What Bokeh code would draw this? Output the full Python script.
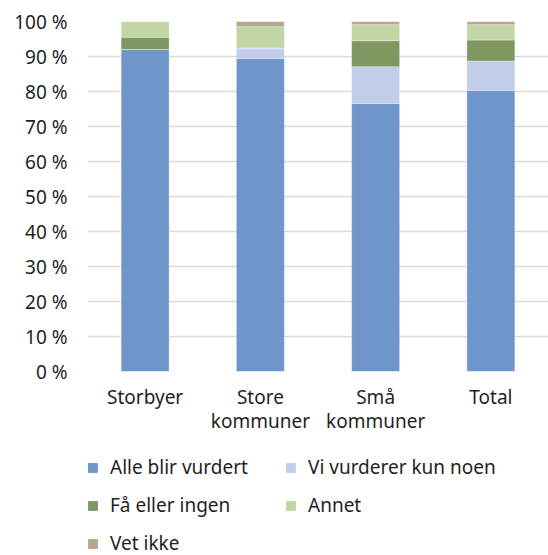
from bokeh.plotting import figure
from bokeh.layouts import column
from bokeh.models import FactorRange, Range1d, Legend, PrintfTickFormatter, ColumnDataSource
from bokeh.embed import file_html
from bokeh.resources import INLINE

categories = ["Storbyer", "Store\nkommuner", "Små\nkommuner", "Total"]
series = ["Alle blir vurdert", "Vi vurderer kun noen", "Få eller ingen", "Annet", "Vet ikke"]
alle = [92.0, 89.4, 76.6, 80.3]
noen = [0.0, 3.0, 10.5, 8.4]
faa = [3.5, 0.0, 7.4, 6.0]
annet = [4.5, 6.1, 4.6, 4.4]
vetikke = [0.0, 1.5, 0.9, 0.9]
colors = ["#6E96CB", "#C2CDE9", "#7E9860", "#C1D5A5", "#B4A88D"]
y_ticks = list(range(0, 101, 10))

FONT = "Noto Sans"
TXT = "#1f1f1f"
W = 548

keys = ["a", "b", "c", "d", "e"]
src = ColumnDataSource(dict(cat=categories, a=alle, b=noen, c=faa, d=annet, e=vetikke))

p = figure(x_range=FactorRange(*categories, range_padding=0), y_range=Range1d(0, 100),
           frame_width=461, frame_height=350, output_backend="svg", toolbar_location=None,
           min_border_left=87, min_border_right=0, min_border_top=21, min_border_bottom=70,
           outline_line_color=None)

rs = p.vbar_stack(keys, x="cat", width=0.416, color=colors, source=src,
                  line_color="white", line_width=0.6, line_alpha=0.5)

p.xgrid.grid_line_color = None
p.ygrid.grid_line_color = "#D9D9D9"
p.ygrid.grid_line_width = 1.5
p.yaxis.ticker = y_ticks
p.yaxis.formatter = PrintfTickFormatter(format="%d %%")
for ax in (p.xaxis, p.yaxis):
    ax.axis_line_color = None
    ax.major_tick_line_color = None
    ax.minor_tick_line_color = None
    ax.major_tick_out = 0
    ax.major_tick_in = 0
    ax.minor_tick_out = 0
    ax.major_label_text_font = FONT
    ax.major_label_text_font_size = "19px"
    ax.major_label_text_color = TXT
p.yaxis.major_label_standoff = 20
p.xaxis.major_label_standoff = 12
p.xaxis.major_label_text_line_height = 0.95

# legend in its own panel below the chart; its bars sit outside the visible y range
p2 = figure(width=W, height=114, x_range=FactorRange(*categories, range_padding=0),
            y_range=Range1d(1000, 1001),
            x_axis_type=None, y_axis_type=None, output_backend="svg", toolbar_location=None,
            min_border=0, outline_line_color=None)
p2.grid.visible = False
rs2 = p2.vbar_stack(keys, x="cat", width=0.416, color=colors, source=src)
legend = Legend(items=[(s, [r]) for s, r in zip(series, rs2)], ncols=2,
                location=(0, -1), orientation="horizontal")
legend.border_line_color = None
legend.background_fill_alpha = 0
legend.label_text_font = FONT
legend.label_text_font_size = "19px"
legend.label_text_color = TXT
legend.glyph_width = 11
legend.glyph_height = 11
legend.label_standoff = 12
legend.spacing = 12
legend.label_width = 163
legend.label_height = 22
legend.padding = 0
legend.margin = 0
p2.add_layout(legend, "center")

layout = column(p, p2, spacing=0)
open("out.html", "w").write(file_html(layout, INLINE))
